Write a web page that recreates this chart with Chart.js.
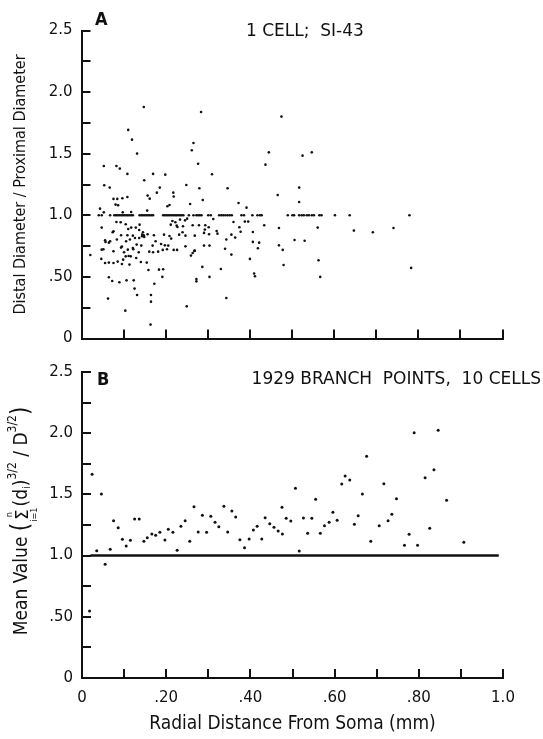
<!DOCTYPE html>
<html>
<head>
<meta charset="utf-8">
<script src="https://cdn.jsdelivr.net/npm/chart.js@4.4.1/dist/chart.umd.min.js"></script>
<style>
  html, body { margin: 0; padding: 0; background: #fff; }
  #wrap { position: relative; width: 543px; height: 739px; }
  canvas { position: absolute; left: 0; }
  #chartA { top: 0; }
  #chartB { top: 360px; }
</style>
</head>
<body>
<div id="wrap">
  <canvas id="chartA" width="543" height="360"></canvas>
  <canvas id="chartB" width="543" height="379"></canvas>
</div>
<script>
// Panel A: one cell, [radial distance (mm), distal / proximal diameter]
const cellPoints = [
  [0.148,1.879],[0.111,1.693],[0.120,1.614],[0.132,1.501],[0.053,1.400],[0.083,1.400],[0.091,1.379],[0.109,1.336],
  [0.170,1.336],[0.199,1.330],[0.149,1.284],[0.054,1.244],[0.067,1.225],[0.186,1.225],[0.179,1.184],[0.218,1.184],
  [0.219,1.152],[0.157,1.160],[0.162,1.135],[0.076,1.133],[0.085,1.133],[0.097,1.138],[0.109,1.149],[0.081,1.087],
  [0.087,1.081],[0.209,1.084],[0.204,1.073],[0.156,1.038],[0.044,1.054],[0.053,1.024],[0.098,1.024],[0.118,1.027],
  [0.216,0.954],[0.223,0.943],[0.226,0.916],[0.212,0.924],[0.048,0.900],[0.083,0.946],[0.093,0.943],[0.105,0.927],
  [0.111,0.889],[0.138,0.924],[0.129,0.900],[0.118,0.900],[0.074,0.862],[0.076,0.870],[0.137,0.881],[0.094,0.838],
  [0.109,0.838],[0.122,0.835],[0.144,0.843],[0.148,0.838],[0.146,0.862],[0.157,0.846],[0.172,0.838],[0.144,0.830],
  [0.149,0.824],[0.137,0.816],[0.127,0.816],[0.115,0.803],[0.056,0.797],[0.057,0.784],[0.065,0.778],[0.068,0.789],
  [0.084,0.803],[0.106,0.789],[0.176,0.789],[0.196,0.843],[0.209,0.832],[0.213,0.811],[0.096,0.746],[0.131,0.762],
  [0.142,0.754],[0.189,0.767],[0.169,0.754],[0.052,0.724],[0.048,0.721],[0.094,0.738],[0.122,0.735],[0.198,0.756],
  [0.206,0.754],[0.219,0.719],[0.227,0.719],[0.021,0.678],[0.047,0.646],[0.076,0.708],[0.101,0.700],[0.110,0.721],
  [0.123,0.724],[0.136,0.700],[0.161,0.705],[0.170,0.700],[0.182,0.705],[0.193,0.719],[0.203,0.724],[0.056,0.613],
  [0.065,0.616],[0.076,0.613],[0.086,0.624],[0.096,0.605],[0.099,0.640],[0.105,0.667],[0.112,0.670],[0.117,0.667],
  [0.130,0.654],[0.141,0.621],[0.155,0.616],[0.114,0.600],[0.159,0.556],[0.184,0.559],[0.194,0.562],[0.065,0.497],
  [0.073,0.467],[0.090,0.456],[0.107,0.472],[0.124,0.472],[0.173,0.445],[0.192,0.500],[0.126,0.405],[0.132,0.353],
  [0.165,0.353],[0.165,0.299],[0.063,0.324],[0.104,0.226],[0.164,0.113],
  [0.284,1.839],[0.266,1.587],[0.262,1.528],[0.277,1.419],[0.310,1.333],[0.445,1.511],[0.437,1.411],[0.249,1.246],
  [0.280,1.219],[0.347,1.219],[0.288,1.124],[0.258,1.092],[0.373,1.100],[0.392,1.062],[0.466,1.165],[0.234,0.965],
  [0.246,0.959],[0.251,0.973],[0.228,0.905],[0.241,0.911],[0.247,0.835],[0.232,0.843],[0.240,0.862],[0.264,0.919],
  [0.279,0.919],[0.294,0.919],[0.302,0.903],[0.313,0.970],[0.293,0.884],[0.291,0.857],[0.303,0.846],[0.321,0.873],
  [0.323,0.851],[0.269,0.835],[0.361,0.946],[0.375,0.903],[0.378,0.867],[0.388,0.949],[0.396,0.949],[0.356,0.843],
  [0.365,0.819],[0.344,0.803],[0.407,0.865],[0.434,0.919],[0.247,0.748],[0.269,0.713],[0.291,0.754],[0.304,0.754],
  [0.341,0.729],[0.356,0.681],[0.400,0.646],[0.407,0.784],[0.422,0.778],[0.419,0.732],[0.469,0.756],[0.469,0.897],
  [0.260,0.673],[0.264,0.694],[0.268,0.711],[0.287,0.581],[0.304,0.500],[0.331,0.564],[0.273,0.483],[0.273,0.464],
  [0.410,0.527],[0.412,0.505],[0.344,0.329],[0.250,0.261],
  [0.475,1.801],[0.525,1.484],[0.547,1.511],[0.517,1.225],[0.517,1.108],[0.561,0.900],[0.647,0.876],[0.692,0.862],
  [0.741,0.897],[0.506,0.800],[0.530,0.794],[0.478,0.719],[0.480,0.597],[0.563,0.635],[0.567,0.500],[0.783,0.573]
];

// Panel A: distances of the branch points whose ratio is exactly 1.0
const unityDistances = [
  0.041,0.048,0.068,0.078,0.082,0.086,0.090,0.094,0.098,0.102,0.106,0.110,0.114,0.118,0.122,
  0.138,0.142,0.146,0.150,0.154,0.158,0.162,0.166,0.170,0.194,0.198,0.202,0.206,0.210,0.214,
  0.218,0.222,0.226,0.230,0.234,0.238,0.242,0.255,0.266,0.273,0.277,0.281,0.285,0.301,0.307,
  0.327,0.332,0.337,0.342,0.347,0.352,0.357,0.380,0.386,0.406,0.418,0.424,0.428,0.490,0.501,
  0.505,0.517,0.523,0.528,0.535,0.540,0.547,0.552,0.565,0.570,0.602,0.637,0.779
];

// Panel B: 10 cells, [radial distance (mm), mean value]
const meanPoints = [
  [0.024,1.664],[0.035,1.040],[0.046,1.503],[0.055,0.929],[0.018,0.547],[0.067,1.051],[0.075,1.285],[0.086,1.228],
  [0.096,1.133],[0.105,1.078],[0.115,1.125],[0.125,1.299],[0.136,1.299],[0.147,1.117],[0.155,1.146],[0.166,1.176],
  [0.175,1.166],[0.185,1.190],[0.197,1.127],[0.205,1.215],[0.216,1.190],[0.226,1.043],[0.235,1.239],[0.245,1.285],
  [0.256,1.117],[0.266,1.400],[0.276,1.193],[0.286,1.329],[0.296,1.190],[0.306,1.321],[0.316,1.272],[0.325,1.236],
  [0.337,1.403],[0.346,1.193],[0.356,1.364],[0.365,1.315],[0.375,1.130],[0.386,1.065],[0.397,1.136],[0.407,1.209],
  [0.416,1.239],[0.427,1.136],[0.435,1.310],[0.446,1.261],[0.456,1.231],[0.466,1.201],[0.476,1.176],[0.475,1.395],
  [0.485,1.305],[0.496,1.283],[0.507,1.550],[0.516,1.038],[0.526,1.307],[0.536,1.182],[0.546,1.305],[0.555,1.460],
  [0.566,1.182],[0.576,1.244],[0.587,1.272],[0.596,1.354],[0.606,1.288],[0.617,1.585],[0.625,1.650],[0.636,1.618],
  [0.647,1.256],[0.656,1.326],[0.666,1.503],[0.676,1.811],[0.686,1.117],[0.706,1.244],[0.717,1.588],[0.727,1.285],
  [0.736,1.337],[0.747,1.465],[0.766,1.084],[0.777,1.174],[0.789,2.004],[0.797,1.084],[0.815,1.637],[0.826,1.223],
  [0.836,1.702],[0.846,2.024],[0.866,1.452],[0.907,1.109]
];

// Panel B: reference line at 1.0
const refLineX = [0.02, 0.99];
const refLineY = [1.0, 1.0];

// Axes: tick marks every 0.25 / 0.1, labels on some of them
const yTickValues = [0, 0.25, 0.5, 0.75, 1, 1.25, 1.5, 1.75, 2, 2.25, 2.5];
const yLabelValues = [0, 0.5, 1, 1.5, 2, 2.5];
const yLabelText = ['0', '.50', '1.0', '1.5', '2.0', '2.5'];
const xTickValues = [0, 0.1, 0.2, 0.3, 0.4, 0.5, 0.6, 0.7, 0.8, 0.9, 1.0];
const xLabelValues = [0, 0.2, 0.4, 0.6, 0.8, 1.0];
const xLabelText = ['0', '.20', '.40', '.60', '.80', '1.0'];

const INK = '#111';
const TICK_FONT = { family: "'DejaVu Sans', sans-serif", size: 15 };
const NARROW = "'DejaVu Sans Condensed', 'Liberation Sans Narrow', 'DejaVu Sans', sans-serif";
const TICK_LEN = 9;

Chart.defaults.color = INK;
Chart.defaults.animation = false;

// Panel letter, caption and (panel B) the y title with sum sign and exponents
const figureText = {
  id: 'figureText',
  afterDraw(chart, args, opts) {
    const ctx = chart.ctx;
    ctx.save();
    ctx.fillStyle = INK;
    ctx.textBaseline = 'alphabetic';
    ctx.font = 'bold 18px ' + NARROW;
    ctx.textAlign = 'left';
    ctx.fillText(opts.letter, opts.letterX, opts.letterY);
    ctx.font = "17px 'DejaVu Sans', sans-serif";
    ctx.textAlign = opts.align;
    ctx.fillText(opts.caption, opts.captionX, opts.captionY);
    ctx.restore();
    if (opts.richTitle) drawRichTitle(ctx, chart.chartArea, opts.richX);
  }
};

function drawRichTitle(ctx, area, x) {
  const runs = [
    { t: 'Mean Value ', size: 19 },
    { t: '(', size: 24 },
    { sigma: true },
    { t: '(d', size: 19 },
    { t: 'i', size: 11, dy: 5 },
    { t: ')', size: 19 },
    { t: '3/2', size: 12, dy: -9 },
    { t: ' / D', size: 19 },
    { t: '3/2', size: 12, dy: -9 },
    { t: ')', size: 24 }
  ];
  ctx.save();
  ctx.fillStyle = INK;
  ctx.textBaseline = 'middle';
  const widthOf = r => {
    if (r.sigma) {
      ctx.font = '18px ' + NARROW;
      const w1 = ctx.measureText('\u03A3').width;
      ctx.font = '9px ' + NARROW;
      return Math.max(w1, ctx.measureText('i=1').width) + 2;
    }
    ctx.font = r.size + 'px ' + NARROW;
    return ctx.measureText(r.t).width;
  };
  const total = runs.reduce((s, r) => s + widthOf(r), 0);
  ctx.translate(x, (area.top + area.bottom) / 2 - 4);
  ctx.rotate(-Math.PI / 2);
  let cx = -total / 2;
  for (const r of runs) {
    const w = widthOf(r);
    if (r.sigma) {
      ctx.textAlign = 'center';
      ctx.font = '18px ' + NARROW;
      ctx.fillText('\u03A3', cx + w / 2, 1);
      ctx.font = '9px ' + NARROW;
      ctx.fillText('n', cx + w / 2, -12);
      ctx.fillText('i=1', cx + w / 2, 13);
    } else {
      ctx.textAlign = 'left';
      ctx.font = r.size + 'px ' + NARROW;
      ctx.fillText(r.t, cx, r.dy || 0);
    }
    cx += w;
  }
  ctx.restore();
}

// Inward tick marks come from the scale's own grid with a negative tick length
const tickGrid = {
  drawOnChartArea: false,
  drawTicks: true,
  tickLength: -TICK_LEN,
  color: INK,
  lineWidth: 2
};

// Fixed axis sizes so both panels share the same plot frame
function fixSize(s, size) {
  if (s.isHorizontal()) s.height = size; else s.width = size;
  s.paddingTop = 0;
  s.paddingBottom = 0;
  s.paddingLeft = 0;
  s.paddingRight = 0;
}

function xScale(showLabels, height) {
  return {
    type: 'linear',
    min: 0,
    max: 1,
    afterBuildTicks: s => { s.ticks = xTickValues.map(v => ({ value: v })); },
    afterFit: s => fixSize(s, height),
    grid: tickGrid,
    border: { display: true, color: INK, width: 2 },
    ticks: {
      display: showLabels,
      autoSkip: false,
      padding: 11 + TICK_LEN,
      font: TICK_FONT,
      color: INK,
      maxRotation: 0,
      callback: v => {
        const i = xLabelValues.indexOf(v);
        return i < 0 ? '' : xLabelText[i];
      }
    },
    title: {
      display: showLabels,
      text: 'Radial Distance From Soma (mm)',
      color: INK,
      font: { family: NARROW, size: 19 },
      padding: { top: 0, bottom: 4 }
    }
  };
}

function yScale(width, titleText) {
  return {
    type: 'linear',
    min: 0,
    max: 2.5,
    afterBuildTicks: s => { s.ticks = yTickValues.map(v => ({ value: v })); },
    afterFit: s => fixSize(s, width),
    grid: tickGrid,
    border: { display: true, color: INK, width: 2 },
    ticks: {
      autoSkip: false,
      padding: 9 + TICK_LEN,
      font: TICK_FONT,
      color: INK,
      callback: v => {
        const i = yLabelValues.indexOf(v);
        return i < 0 ? '' : yLabelText[i];
      }
    },
    title: {
      display: !!titleText,
      text: titleText || '',
      color: INK,
      font: { family: NARROW, size: 16 },
      padding: { top: 11, bottom: 0 }
    }
  };
}

// Panel A
const dataA = cellPoints.map(([x, y]) => ({ x, y }))
  .concat(unityDistances.map(x => ({ x, y: 1.0 })));

new Chart(document.getElementById('chartA'), {
  type: 'scatter',
  data: {
    datasets: [{
      data: dataA,
      pointRadius: 1.3,
      pointBackgroundColor: INK,
      pointBorderWidth: 0
    }]
  },
  options: {
    responsive: false,
    devicePixelRatio: 1,
    layout: { padding: { left: 0, right: 40.5, top: 30.5, bottom: 0 } },
    scales: {
      x: xScale(false, 21.5),
      y: yScale(81.5, 'Distal Diameter / Proximal Diameter')
    },
    plugins: {
      legend: { display: false },
      tooltip: { enabled: false },
      figureText: {
        letter: 'A', letterX: 95, letterY: 25,
        caption: '1 CELL;  SI-43', captionX: 246, captionY: 36, align: 'left',
        richTitle: false
      }
    }
  },
  plugins: [figureText]
});

// Panel B
new Chart(document.getElementById('chartB'), {
  type: 'scatter',
  data: {
    datasets: [{
      data: meanPoints.map(([x, y]) => ({ x, y })),
      pointRadius: 1.5,
      pointBackgroundColor: INK,
      pointBorderWidth: 0
    }, {
      data: refLineX.map((x, i) => ({ x, y: refLineY[i] })),
      showLine: true,
      borderColor: INK,
      borderWidth: 2.5,
      pointRadius: 0
    }]
  },
  options: {
    responsive: false,
    devicePixelRatio: 1,
    layout: { padding: { left: 0, right: 40, top: 12, bottom: 0 } },
    scales: {
      x: xScale(true, 61),
      y: yScale(82, null)
    },
    plugins: {
      legend: { display: false },
      tooltip: { enabled: false },
      figureText: {
        letter: 'B', letterX: 97, letterY: 25,
        caption: '1929 BRANCH  POINTS,  10 CELLS', captionX: 541, captionY: 24, align: 'right',
        richTitle: true, richX: 22
      }
    }
  },
  plugins: [figureText]
});
</script>
</body>
</html>
